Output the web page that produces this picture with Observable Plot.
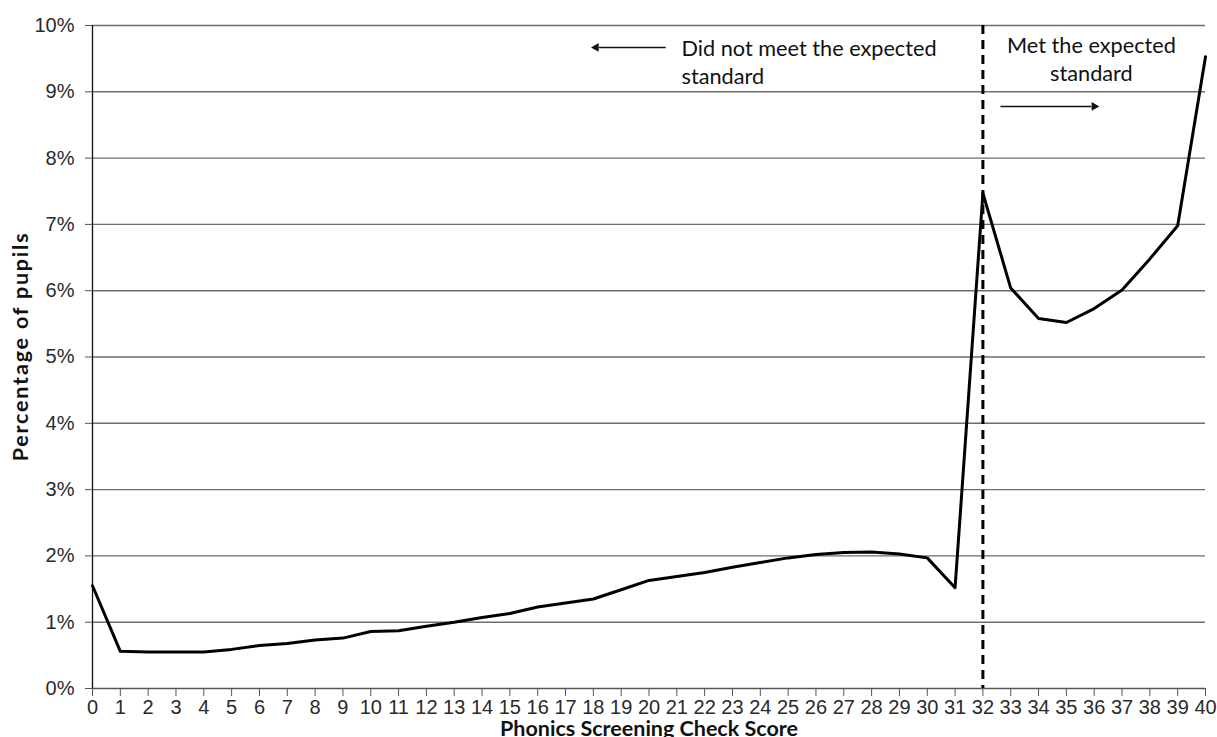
<!DOCTYPE html>
<html><head><meta charset="utf-8">
<script src="https://cdn.jsdelivr.net/npm/d3@7"></script>
<script src="https://cdn.jsdelivr.net/npm/@observablehq/plot@0.6"></script>
<style>body{margin:0;background:#fff;overflow:hidden}</style>
</head><body><div id="chart"></div>
<script>
const scores = [0,1,2,3,4,5,6,7,8,9,10,11,12,13,14,15,16,17,18,19,20,21,22,23,24,25,26,27,28,29,30,31,32,33,34,35,36,37,38,39,40];
const percentages = [1.55,0.56,0.55,0.55,0.55,0.59,0.65,0.68,0.73,0.76,0.86,0.87,0.94,1.00,1.07,1.13,1.23,1.29,1.35,1.49,1.63,1.69,1.75,1.83,1.90,1.97,2.02,2.05,2.06,2.03,1.97,1.52,7.47,6.04,5.58,5.52,5.73,6.01,6.48,6.98,9.53];
const yTicks = [0,1,2,3,4,5,6,7,8,9,10];
const threshold = [32];
const belowLabel = ["Did not meet the expected\nstandard"];
const aboveLabel = ["Met the expected\nstandard"];
const xTitle = ["Phonics Screening Check Score"];
const yTitle = ["Percentage of pupils"];

const data = scores.map((s, i) => ({score: s, pct: percentages[i]}));
const annFont = "Lato, 'Open Sans', sans-serif";

const plot = Plot.plot({
  width: 1217, height: 737,
  marginTop: 25, marginBottom: 49, marginLeft: 92, marginRight: 12,
  style: {fontFamily: "'Liberation Sans', Arial, sans-serif", fontSize: "20px", color: "#2a2a2a", background: "#fff", overflow: "hidden"},
  x: {domain: [0, 40]},
  y: {domain: [0, 10]},
  marks: [
    Plot.ruleY(yTicks.filter(d => d > 0), {stroke: "#6e6e6e", strokeWidth: 1.4}),
    Plot.axisY(yTicks, {tickSize: 7, tickPadding: 11, tickFormat: d => d + "%", label: null, stroke: "#555"}),
    Plot.axisX(scores, {tickSize: 8, tickPadding: 3, tickFormat: d => String(d), label: null, stroke: "#555"}),
    Plot.ruleY([0], {stroke: "#555", strokeWidth: 1.4}),
    Plot.ruleX([0], {stroke: "#111", strokeWidth: 1.3}),
    Plot.ruleX(threshold, {stroke: "#000", strokeWidth: 3, strokeDasharray: "9,6"}),
    Plot.line(data, {x: "score", y: "pct", stroke: "#000", strokeWidth: 3}),
    Plot.text(belowLabel, {x: 21.17, y: 9.84, text: d => d, textAnchor: "start", lineAnchor: "top", lineHeight: 1.3, fontFamily: annFont, fontSize: 21.7, fill: "#111"}),
    Plot.text(aboveLabel, {x: 35.9, y: 9.89, text: d => d, textAnchor: "middle", lineAnchor: "top", lineHeight: 1.3, fontFamily: annFont, fontSize: 21.7, fill: "#111"}),
    Plot.link([0], {x1: 20.6, y1: 9.67, x2: 18.2, y2: 9.67, stroke: "#111", strokeWidth: 1.5}),
    Plot.dot([0], {x: 18.1, y: 9.67, symbol: "triangle", rotate: -90, r: 3.3, fill: "#111", stroke: null}),
    Plot.link([0], {x1: 32.63, y1: 8.78, x2: 35.9, y2: 8.78, stroke: "#111", strokeWidth: 1.5}),
    Plot.dot([0], {x: 36.0, y: 8.78, symbol: "triangle", rotate: 90, r: 3.3, fill: "#111", stroke: null}),
    Plot.text(xTitle, {frameAnchor: "bottom", dy: 32, lineAnchor: "top", text: d => d, fontFamily: annFont, fontWeight: "bold", fontSize: 21.5, fill: "#111"}),
    Plot.text(yTitle, {frameAnchor: "left", y: 5.16, dx: -71, rotate: -90, textAnchor: "middle", lineAnchor: "middle", text: d => d, fontFamily: annFont, fontWeight: "bold", fontSize: 21.5, fill: "#111"})
  ]
});
d3.select(plot).selectAll("text").filter(function() { return this.textContent === yTitle[0]; }).attr("letter-spacing", "1.8px");
document.getElementById("chart").appendChild(plot);
</script>
</body></html>
